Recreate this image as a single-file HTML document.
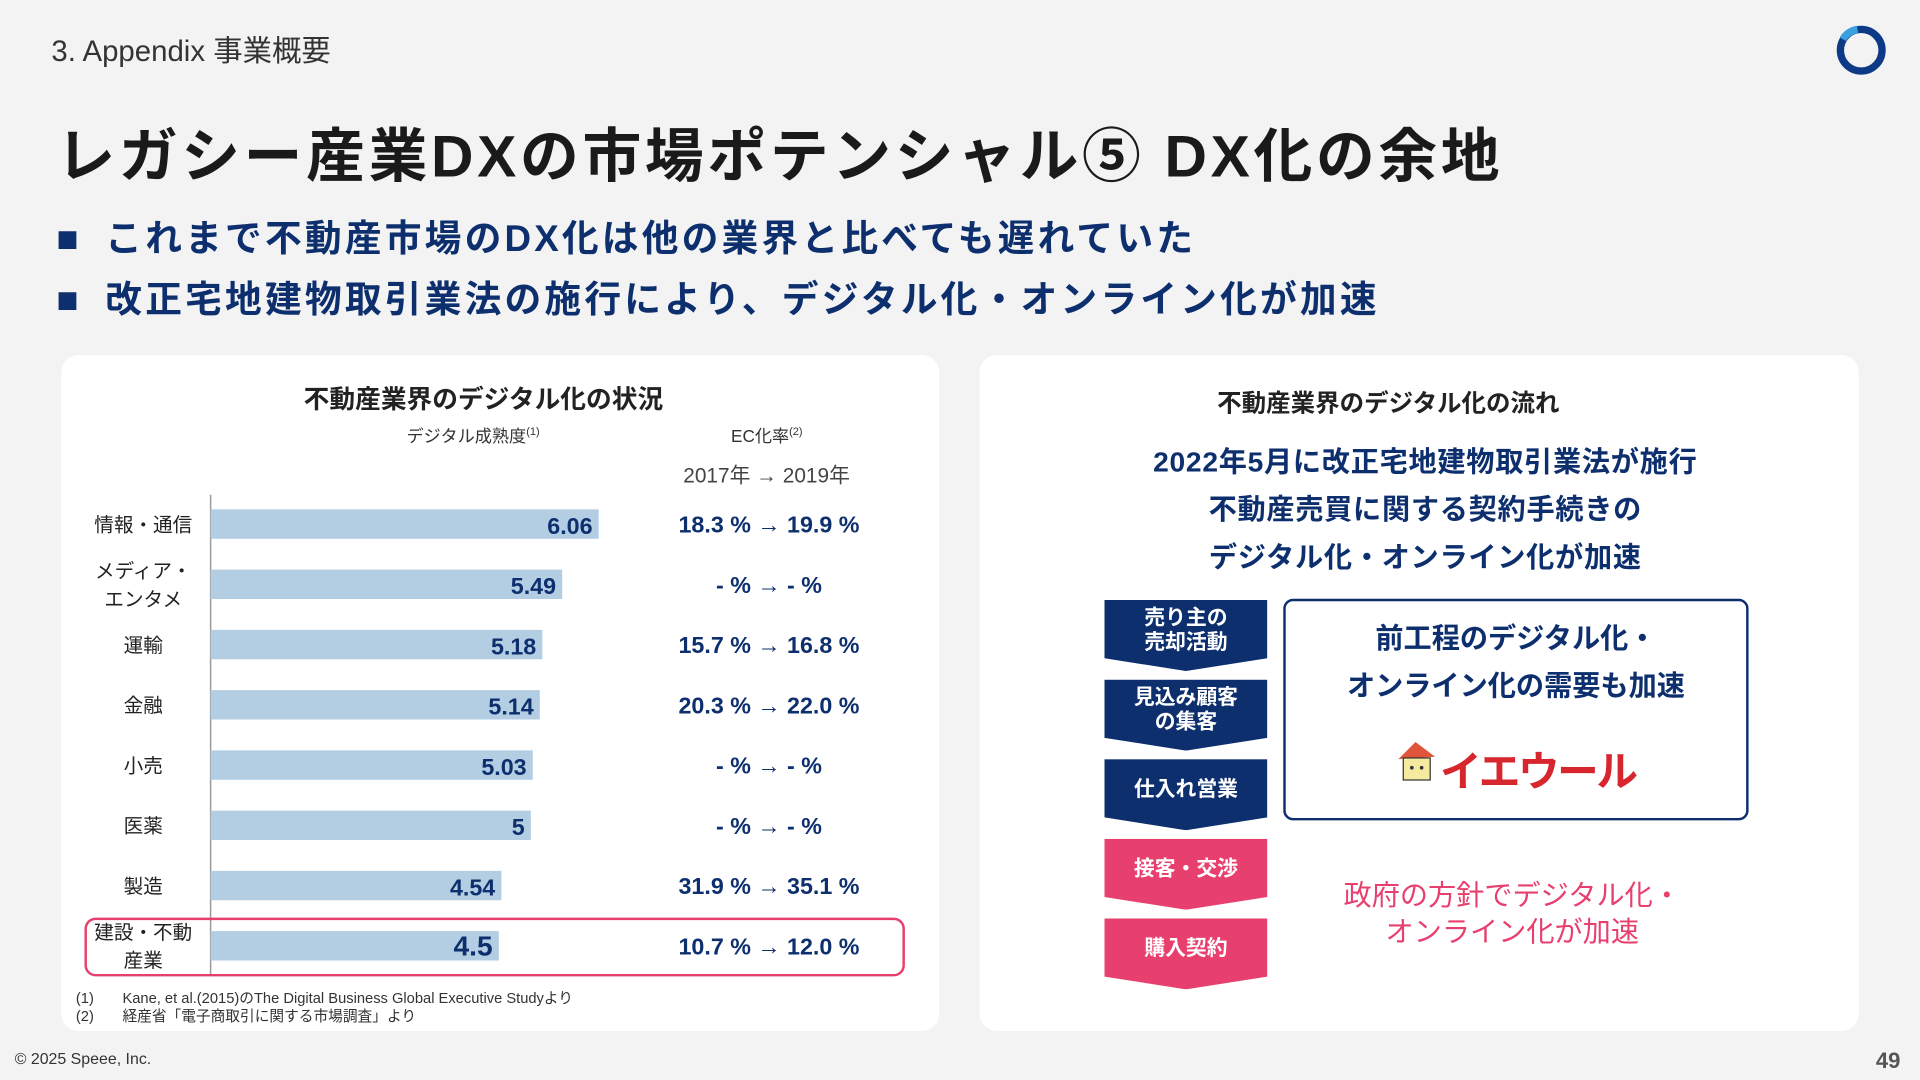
<!DOCTYPE html>
<html><head><meta charset="utf-8">
<style>
*{margin:0;padding:0;box-sizing:border-box}
html,body{width:1920px;height:1080px;overflow:hidden;background:#f3f3f3}
#root{position:absolute;left:0;top:0;width:1568px;height:882px;transform:scale(1.22449);transform-origin:0 0;background:#f3f3f3;font-family:"Liberation Sans","Noto Sans CJK JP",sans-serif;color:#222}
.abs{position:absolute}
.navy{color:#0d2f6e}
.card{position:absolute;background:#fff;border-radius:14px}
.chev{position:absolute;left:902px;width:133px;color:#fff;font-weight:bold;font-size:17px;line-height:20px;text-align:center;display:flex;align-items:center;justify-content:center;clip-path:polygon(0 0,100% 0,100% 82%,50% 100%,0 82%)}
.sq{display:inline-block;width:40px}
</style></head><body>
<div id="root">
<div class="abs" style="left:42px;top:22px;font-size:24px;color:#333">3. Appendix 事業概要</div>
<svg class="abs" style="left:1497px;top:18px" width="46" height="46"><circle cx="23" cy="23" r="17" fill="none" stroke="#0d3a86" stroke-width="6"/><path d="M8 14 A17 17 0 0 1 20 6" stroke="#3aa0e0" stroke-width="6" fill="none"/></svg>
<div class="abs" style="left:46px;top:88px;font-size:48px;font-weight:bold;color:#1a1a1a;letter-spacing:3px">レガシー産業DXの市場ポテンシャル⑤ DX化の余地</div>
<div class="abs navy" style="left:46px;top:170px;font-size:30px;font-weight:bold;letter-spacing:2.6px"><span class="sq">■</span>これまで不動産市場のDX化は他の業界と比べても遅れていた</div>
<div class="abs navy" style="left:46px;top:220px;font-size:30px;font-weight:bold;letter-spacing:2.6px"><span class="sq">■</span>改正宅地建物取引業法の施行により、デジタル化・オンライン化が加速</div>

<div class="card" style="left:50px;top:290px;width:717px;height:552px"></div>
<div class="abs" style="left:248px;top:310px;font-size:21px;font-weight:bold">不動産業界のデジタル化の状況</div>
<div class="abs" style="left:332px;top:346px;font-size:14px;color:#333">デジタル成熟度<sup style="font-size:9px">(1)</sup></div>
<div class="abs" style="left:597px;top:346px;font-size:14px;color:#333">EC化率<sup style="font-size:9px">(2)</sup></div>
<div class="abs" style="left:558px;top:374px;font-size:17px;color:#444">2017年 → 2019年</div>
<svg id="chart" class="abs" style="left:0;top:0" width="767" height="842"></svg>
<div class="abs" style="left:62px;top:808px;font-size:12px;color:#333;line-height:15px">(1)&nbsp;&nbsp;&nbsp;&nbsp;&nbsp;&nbsp;&nbsp;Kane, et al.(2015)のThe Digital Business Global Executive Studyより<br>(2)&nbsp;&nbsp;&nbsp;&nbsp;&nbsp;&nbsp;&nbsp;経産省「電子商取引に関する市場調査」より</div>

<div class="card" style="left:800px;top:290px;width:718px;height:552px"></div>
<div class="abs" style="left:994px;top:313px;font-size:20px;font-weight:bold">不動産業界のデジタル化の流れ</div>
<div class="abs navy" style="left:900px;top:358px;width:528px;text-align:center;font-size:23px;font-weight:bold;line-height:39px;letter-spacing:0.6px">2022年5月に改正宅地建物取引業法が施行<br>不動産売買に関する契約手続きの<br>デジタル化・オンライン化が加速</div>
<div class="chev" style="top:490px;height:58px;background:#0d2f6e;padding-bottom:8px">売り主の<br>売却活動</div>
<div class="chev" style="top:555px;height:58px;background:#0d2f6e;padding-bottom:8px">見込み顧客<br>の集客</div>
<div class="chev" style="top:620px;height:58px;background:#0d2f6e;padding-bottom:8px">仕入れ営業</div>
<div class="chev" style="top:685px;height:58px;background:#e8406e;padding-bottom:8px">接客・交渉</div>
<div class="chev" style="top:750px;height:58px;background:#e8406e;padding-bottom:8px">購入契約</div>
<div class="abs" style="left:1048px;top:489px;width:380px;height:181px;border:2.5px solid #0d2f6e;border-radius:8px"></div>
<div class="abs navy" style="left:1048px;top:502px;width:380px;text-align:center;font-size:23px;font-weight:bold;line-height:39px">前工程のデジタル化・<br>オンライン化の需要も加速</div>
<svg class="abs" style="left:1140px;top:604px" width="36" height="40"><polygon points="2,16 16,2 32,14" fill="#e0553a"/><rect x="6" y="15" width="22" height="18" fill="#f6eaa0" stroke="#333"/><circle cx="13" cy="23" r="1.5" fill="#333"/><circle cx="21" cy="23" r="1.5" fill="#333"/></svg>
<div class="abs" style="left:1176px;top:603px;font-size:34px;font-weight:bold;color:#d8262e;letter-spacing:-2px">イエウール</div>
<div class="abs" style="left:1060px;top:716px;width:350px;text-align:center;font-size:23px;color:#e8406e;line-height:30px">政府の方針でデジタル化・<br>オンライン化が加速</div>

<div class="abs" style="left:12px;top:857px;font-size:13px;color:#333">© 2025 Speee, Inc.</div>
<div class="abs" style="left:1532px;top:856px;font-size:18px;font-weight:bold;color:#555">49</div>
</div>
<script>
const categories=["情報・通信","メディア・\nエンタメ","運輸","金融","小売","医薬","製造","建設・不動\n産業"];
const maturity=[6.06,5.49,5.18,5.14,5.03,5,4.54,4.5];
const maturityLabels=["6.06","5.49","5.18","5.14","5.03","5","4.54","4.5"];
const ec2017=["18.3","-","15.7","20.3","-","-","31.9","10.7"];
const ec2019=["19.9","-","16.8","22.0","-","-","35.1","12.0"];
const svg=document.getElementById('chart');
const NS='http://www.w3.org/2000/svg';
const x0=172,pxPerUnit=52.3,y0=428,step=49.2,bh=24;
const xs=v=>x0+v*pxPerUnit;
const ys=i=>y0+i*step;
function mk(t,a){const e=document.createElementNS(NS,t);for(const k in a)e.setAttribute(k,a[k]);svg.appendChild(e);return e;}
const axis=mk('line',{x1:x0,x2:x0,y1:404,y2:796,stroke:'#999','stroke-width':1.2});


categories.forEach((c,i)=>{
  const y=ys(i);
  const last=i===categories.length-1;
  const r=mk('rect',{x:x0,y:y-bh/2,width:xs(maturity[i])-x0,height:bh,fill:'#b3cde3'});
  
  
  const v=mk('text',{x:xs(maturity[i])-5,y:y+8,'text-anchor':'end','font-size':last?23:19,'font-weight':'bold',fill:'#0d2f6e'});
  v.textContent=maturityLabels[i];
  
  
  const lines=c.split('\n');
  lines.forEach((ln,j)=>{
    const t=mk('text',{x:117,y:y+6+(j-(lines.length-1)/2)*23,'text-anchor':'middle','font-size':16,fill:'#222'});
    t.textContent=ln;
    
    
  });
  const ec=mk('text',{x:628,y:y+7,'text-anchor':'middle','font-size':19,'font-weight':'bold',fill:'#0d2f6e'});
  ec.textContent=ec2017[i]+' % → '+ec2019[i]+' %';
  
  
});
const hl=mk('rect',{x:70,y:ys(7)-22,width:668,height:46,rx:8,fill:'none',stroke:'#e8406e','stroke-width':2});


</script>
</body></html>
